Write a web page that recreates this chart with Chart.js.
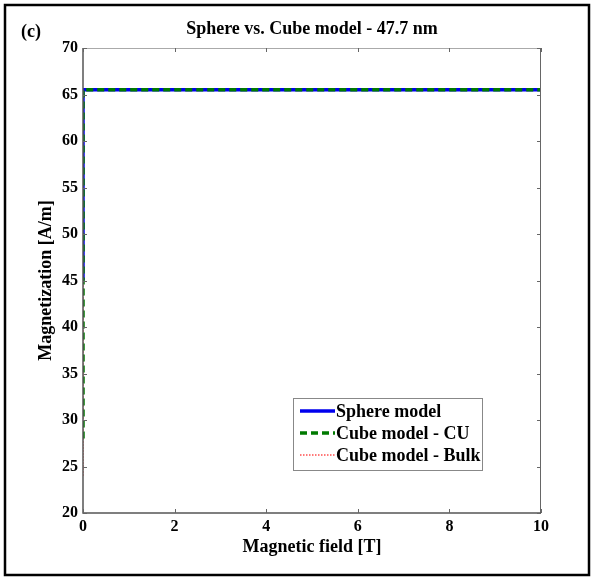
<!DOCTYPE html>
<html>
<head>
<meta charset="utf-8">
<script src="https://cdn.jsdelivr.net/npm/chart.js@4"></script>
<style>
  html, body { margin: 0; padding: 0; background: #fff; }
  #wrap { position: relative; width: 592px; height: 577px; }
</style>
</head>
<body>
<div id="wrap"><canvas id="c" width="592" height="577"></canvas></div>
<script>
// ---- data ----
const seriesLabels = ["Sphere model", "Cube model - CU", "Cube model - Bulk"];
const sphereField = [0, 0, 10];
const sphereMag   = [45, 65.5, 65.5];
const cubeCuField = [0, 0, 10];
const cubeCuMag   = [28, 65.5, 65.5];
const bulkField   = [0, 0, 10];
const bulkMag     = [24, 65.5, 65.5];
const xTickValues = [0, 2, 4, 6, 8, 10];
const yTickValues = [20, 25, 30, 35, 40, 45, 50, 55, 60, 65, 70];

const toPts = (xs, ys) => xs.map((x, i) => ({ x: x, y: ys[i] }));
const FONT = "'Liberation Serif', 'Times New Roman', serif";

const frame = {
  id: 'frame',
  beforeDraw(chart) {
    const ctx = chart.ctx;
    ctx.save();
    ctx.fillStyle = '#fff';
    ctx.fillRect(0, 0, chart.width, chart.height);
    ctx.restore();
  },
  afterDatasetsDraw(chart) {
    const ctx = chart.ctx, a = chart.chartArea;
    const xs = chart.scales.x, ys = chart.scales.y;
    ctx.save();
    ctx.lineWidth = 1;
    ctx.strokeStyle = '#aaa';
    ctx.beginPath(); ctx.moveTo(a.left, a.top + 0.5); ctx.lineTo(a.right, a.top + 0.5); ctx.stroke();
    ctx.strokeStyle = '#666';
    ctx.beginPath(); ctx.moveTo(a.right - 0.5, a.top); ctx.lineTo(a.right - 0.5, a.bottom); ctx.stroke();
    ctx.strokeStyle = '#555';
    ctx.lineWidth = 1.5;
    ctx.beginPath(); ctx.moveTo(a.left, a.top); ctx.lineTo(a.left, a.bottom); ctx.lineTo(a.right, a.bottom); ctx.stroke();
    ctx.lineWidth = 1;
    ctx.strokeStyle = '#666';
    const tl = 4;
    xTickValues.forEach(v => {
      const px = Math.round(xs.getPixelForValue(v)) + 0.5;
      ctx.beginPath(); ctx.moveTo(px, a.bottom); ctx.lineTo(px, a.bottom - tl); ctx.stroke();
      ctx.beginPath(); ctx.moveTo(px, a.top); ctx.lineTo(px, a.top + tl); ctx.stroke();
    });
    yTickValues.forEach(v => {
      const py = Math.round(ys.getPixelForValue(v)) + 0.5;
      ctx.beginPath(); ctx.moveTo(a.left, py); ctx.lineTo(a.left + tl, py); ctx.stroke();
      ctx.beginPath(); ctx.moveTo(a.right, py); ctx.lineTo(a.right - tl, py); ctx.stroke();
    });
    ctx.restore();
  },
  afterDraw(chart) {
    const ctx = chart.ctx;
    ctx.save();
    ctx.strokeStyle = '#000';
    ctx.lineWidth = 2.5;
    ctx.strokeRect(5, 5, 584, 570);
    ctx.fillStyle = '#000';
    ctx.font = 'bold 18px ' + FONT;
    ctx.textBaseline = 'middle';
    ctx.textAlign = 'left';
    ctx.fillText('(c)', 21, 32);
    const bx = 293, by = 398, bw = 189, bh = 72;
    ctx.fillStyle = '#fff';
    ctx.fillRect(bx, by, bw, bh);
    ctx.strokeStyle = '#888';
    ctx.lineWidth = 1;
    ctx.strokeRect(bx + 0.5, by + 0.5, bw, bh);
    const rowY = [411, 433, 455];
    chart.data.datasets.forEach((ds, i) => {
      const y = rowY[i];
      ctx.save();
      ctx.strokeStyle = ds.borderColor;
      ctx.lineWidth = ds.borderWidth;
      ctx.setLineDash(ds.borderDash || []);
      ctx.beginPath(); ctx.moveTo(300, y); ctx.lineTo(335, y); ctx.stroke();
      ctx.restore();
      ctx.fillStyle = '#000';
      ctx.font = 'bold 18px ' + FONT;
      ctx.textBaseline = 'middle';
      ctx.fillText(ds.label, 336, y + 1);
    });
    ctx.restore();
  }
};

new Chart(document.getElementById('c'), {
  type: 'scatter',
  data: {
    datasets: [
      { label: seriesLabels[0], data: toPts(sphereField, sphereMag), showLine: true,
        borderColor: '#0000ee', backgroundColor: '#0000ee', borderWidth: 3.5, pointRadius: 0, order: 1 },
      { label: seriesLabels[1], data: toPts(cubeCuField, cubeCuMag), showLine: true,
        borderColor: '#007a00', backgroundColor: '#007a00', borderWidth: 3.5, borderDash: [7, 4], pointRadius: 0, order: 0 },
      { label: seriesLabels[2], data: toPts(bulkField, bulkMag), showLine: true,
        borderColor: '#ff4d4d', backgroundColor: '#ff4d4d', borderWidth: 1.5, borderDash: [1.5, 1.5], pointRadius: 0, order: 2 }
    ]
  },
  options: {
    responsive: false,
    animation: false,
    layout: { padding: { left: 0, right: 51, top: 0, bottom: 16 } },
    plugins: {
      legend: { display: false },
      tooltip: { enabled: false },
      title: {
        display: true, fullSize: false,
        text: 'Sphere vs. Cube model - 47.7 nm',
        color: '#000',
        font: { family: FONT, size: 18, weight: 'bold', lineHeight: 1.2 },
        padding: { top: 19, bottom: 7.4 }
      }
    },
    scales: {
      x: {
        type: 'linear', min: 0, max: 10,
        afterBuildTicks: s => { s.ticks = xTickValues.map(v => ({ value: v })); },
        afterFit: s => { s.height = 48; },
        grid: { display: false, drawTicks: false },
        border: { display: false },
        ticks: { color: '#000', padding: 4, maxRotation: 0, font: { family: FONT, size: 16, weight: 'bold' } },
        title: { display: true, text: 'Magnetic field [T]', color: '#000', padding: { top: 2, bottom: 3 },
                 font: { family: FONT, size: 18, weight: 'bold' } }
      },
      y: {
        type: 'linear', min: 20, max: 70,
        afterBuildTicks: s => { s.ticks = yTickValues.map(v => ({ value: v })); },
        afterFit: s => { s.width = 83; },
        grid: { display: false, drawTicks: false },
        border: { display: false },
        ticks: { color: '#000', padding: 5, font: { family: FONT, size: 16, weight: 'bold' } },
        title: { display: true, text: 'Magnetization [A/m]', color: '#000', padding: { top: 36, bottom: 0 },
                 font: { family: FONT, size: 18, weight: 'bold' } }
      }
    }
  },
  plugins: [frame]
});
</script>
</body>
</html>
